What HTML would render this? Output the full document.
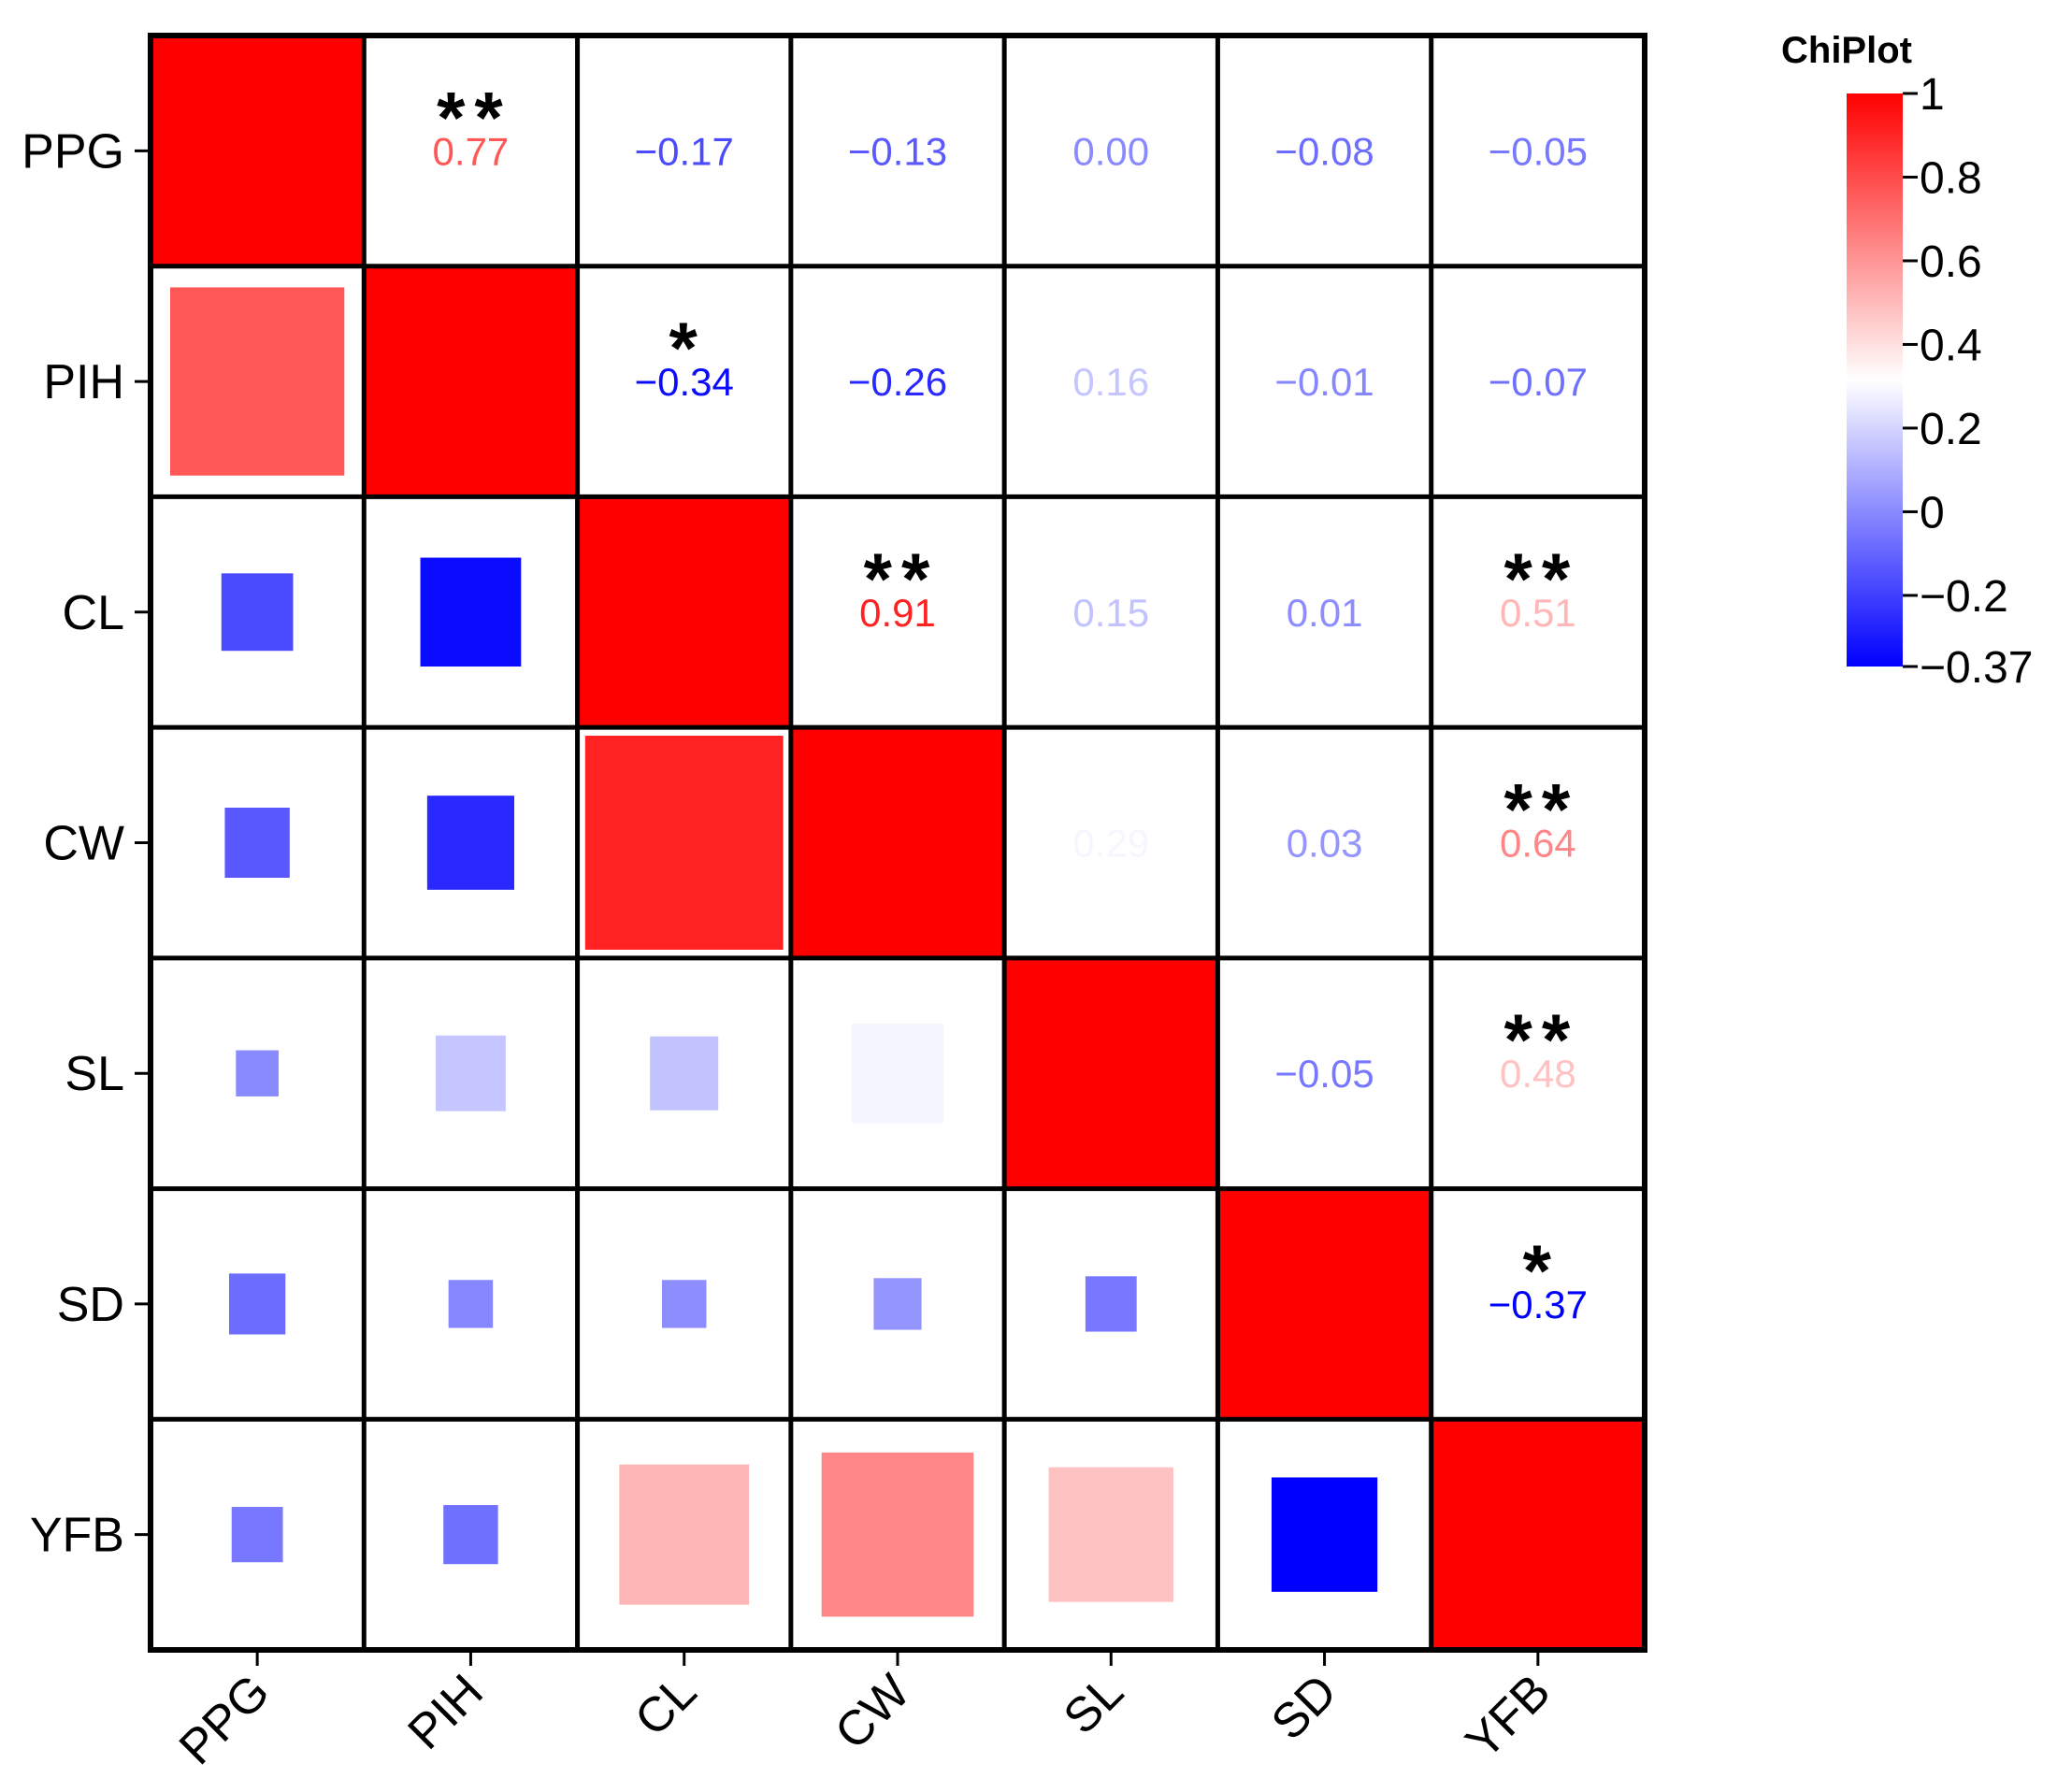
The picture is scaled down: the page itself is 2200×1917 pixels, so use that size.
<!DOCTYPE html>
<html><head><meta charset="utf-8"><style>
html,body{margin:0;padding:0;background:#fff;}
svg{display:block;font-family:"Liberation Sans",Arial,sans-serif;}
</style></head><body>
<svg id="chart" width="2200" height="1917" viewBox="0 0 2200 1917" xmlns="http://www.w3.org/2000/svg">
<defs>
<linearGradient id="cbgrad" x1="0" y1="1" x2="0" y2="0">
<stop offset="0" stop-color="#0000ff"/>
<stop offset="0.5" stop-color="#ffffff"/>
<stop offset="1" stop-color="#ff0000"/>
</linearGradient>
</defs>
<g id="cells"></g>
<g id="grid"></g>
<g id="axes"></g>
<g id="colorbar"></g>
</svg>
<script>
const labels = ["PPG","PIH","CL","CW","SL","SD","YFB"];
const rowPPG = [1, 0.77, -0.17, -0.13, 0.00, -0.08, -0.05];
const rowPIH = [0.77, 1, -0.34, -0.26, 0.16, -0.01, -0.07];
const rowCL  = [-0.17, -0.34, 1, 0.91, 0.15, 0.01, 0.51];
const rowCW  = [-0.13, -0.26, 0.91, 1, 0.29, 0.03, 0.64];
const rowSL  = [0.00, 0.16, 0.15, 0.29, 1, -0.05, 0.48];
const rowSD  = [-0.08, -0.01, 0.01, 0.03, -0.05, 1, -0.37];
const rowYFB = [-0.05, -0.07, 0.51, 0.64, 0.48, -0.37, 1];
const matrix = [rowPPG,rowPIH,rowCL,rowCW,rowSL,rowSD,rowYFB];
const starsPPG = ["","**","","","","",""];
const starsPIH = ["","","*","","","",""];
const starsCL  = ["","","","**","","","**"];
const starsCW  = ["","","","","","","**"];
const starsSL  = ["","","","","","","**"];
const starsSD  = ["","","","","","","*"];
const starsYFB = ["","","","","","",""];
const stars = [starsPPG,starsPIH,starsCL,starsCW,starsSL,starsSD,starsYFB];
const cbTicks = [1,0.8,0.6,0.4,0.2,0,-0.2,-0.37];
const cbTickLabels = ["1","0.8","0.6","0.4","0.2","0","\u22120.2","\u22120.37"];
const vmin = -0.37, vmax = 1;

const NS = "http://www.w3.org/2000/svg";
const X0 = 161, X1 = 1759, Y0 = 38, Y1 = 1765;
const n = labels.length;
const cw = (X1-X0)/n, ch = (Y1-Y0)/n;
const xs = i => X0 + i*cw;
const ys = j => Y0 + j*ch;
function color(v){
  const mid = (vmin+vmax)/2;
  let r,g,b;
  if (v <= mid){ const t=(v-vmin)/(mid-vmin); r=Math.round(255*t); g=r; b=255; }
  else { const t=(vmax-v)/(vmax-mid); r=255; g=Math.round(255*t); b=g; }
  return `rgb(${r},${g},${b})`;
}
function mk(tag, attrs, parent){
  const e=document.createElementNS(NS,tag);
  for(const k in attrs) e.setAttribute(k,attrs[k]);
  parent.appendChild(e); return e;
}
const cells=document.getElementById('cells');
const fmt = v => (v<0?"\u2212":"")+Math.abs(v).toFixed(2);
for(let r=0;r<n;r++){
  for(let c=0;c<n;c++){
    const v=matrix[r][c];
    if(r===c){
      const e=mk('rect',{x:xs(c),y:ys(r),width:cw,height:ch,fill:color(v)},cells);
      
      
    } else if(r>c){
      const s=0.2+0.8*Math.abs(v);
      const w=cw*s,h=ch*s;
      const e=mk('rect',{x:xs(c)+(cw-w)/2,y:ys(r)+(ch-h)/2,width:w,height:h,fill:color(v)},cells);
      
      
    } else {
      const cx=xs(c)+cw/2, cy=ys(r)+ch/2;
      const t=mk('text',{x:cx,y:cy+15,'text-anchor':'middle','font-size':42,fill:color(v)},cells);
      t.textContent=fmt(v);
      
      
      if(stars[r][c]){
        const st=mk('text',{x:cx+4,y:cy-53+44,'text-anchor':'middle','font-size':78,'font-weight':'bold','letter-spacing':10,fill:'#000'},cells);
        st.textContent=stars[r][c];
        
        
      }
    }
  }
}
const grid=document.getElementById('grid');
for(let i=0;i<=n;i++){
  const sw=(i===0||i===n)?6:5;
  const l1=mk('line',{x1:xs(i),y1:Y0-3,x2:xs(i),y2:Y1+3,stroke:'#000','stroke-width':sw},grid);
  
  
  const l2=mk('line',{x1:X0-3,y1:ys(i),x2:X1+3,y2:ys(i),stroke:'#000','stroke-width':sw},grid);
  
  
}
const axes=document.getElementById('axes');
for(let i=0;i<n;i++){
  const cy=ys(i)+ch/2;
  mk('line',{x1:X0-17,y1:cy,x2:X0,y2:cy,stroke:'#000','stroke-width':3},axes);
  const t=mk('text',{x:X0-28,y:cy+18,'text-anchor':'end','font-size':52,fill:'#000'},axes);
  t.textContent=labels[i];
  
  
  const cx=xs(i)+cw/2;
  mk('line',{x1:cx,y1:Y1,x2:cx,y2:Y1+17,stroke:'#000','stroke-width':3},axes);
  const tx=mk('text',{x:cx+16,y:Y1+48,'text-anchor':'end','font-size':52,fill:'#000',transform:`rotate(-45 ${cx+16} ${Y1+48})`},axes);
  tx.textContent=labels[i];
  
  
}
const cb=document.getElementById('colorbar');
const CBX=1975, CBW=60, CBT=100, CBB=713;
const cbY = v => CBT + (vmax-v)/(vmax-vmin)*(CBB-CBT);
const bar=mk('rect',{x:CBX,y:CBT,width:CBW,height:CBB-CBT,fill:'url(#cbgrad)'},cb);


const title=mk('text',{x:1975,y:67,'text-anchor':'middle','font-size':40,'font-weight':'bold',fill:'#000'},cb);
title.textContent="ChiPlot";


for(let i=0;i<cbTicks.length;i++){
  const y=cbY(cbTicks[i]);
  mk('line',{x1:CBX+CBW,y1:y,x2:CBX+CBW+16,y2:y,stroke:'#000','stroke-width':3},cb);
  const t=mk('text',{x:CBX+CBW+18,y:y+17,'font-size':48,fill:'#000'},cb);
  t.textContent=cbTickLabels[i];
  
  
}
</script>
</body></html>
